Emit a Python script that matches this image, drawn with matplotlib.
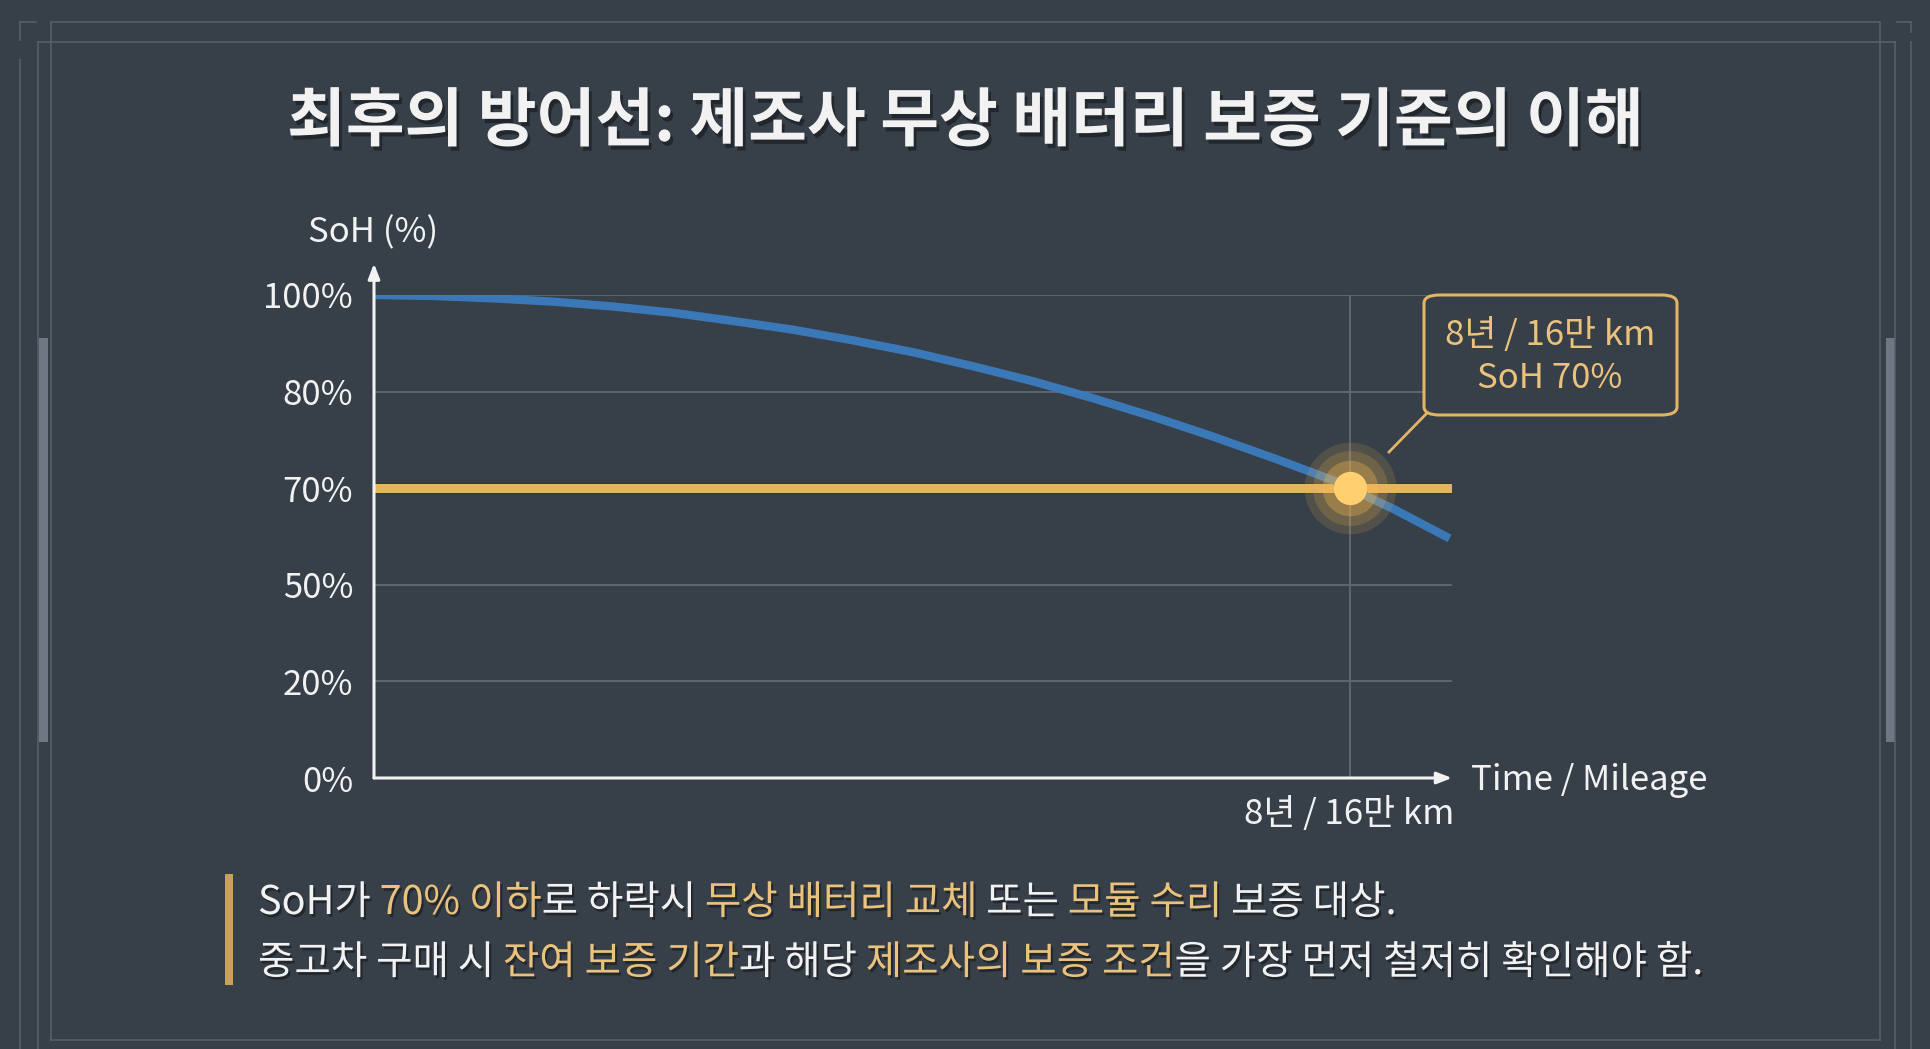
import numpy as np
import matplotlib
matplotlib.use("Agg")
import matplotlib.pyplot as plt
import matplotlib.patheffects as pe
from matplotlib.patches import FancyBboxPatch, Rectangle
from matplotlib.lines import Line2D

plt.rcParams['font.family'] = ['Noto Sans CJK KR', 'DejaVu Sans']

# ---------------- data ----------------
title = "최후의 방어선: 제조사 무상 배터리 보증 기준의 이해"
y_ticks = [0, 20, 50, 70, 80, 100]
y_tick_labels = ["0%", "20%", "50%", "70%", "80%", "100%"]
years = [0.0, 0.49, 0.98, 1.48, 1.97, 2.46, 2.95, 3.44, 3.93, 4.43, 4.92, 5.41,
         5.90, 6.39, 6.89, 7.38, 7.87, 8.00, 8.36, 8.82]
soh = [100.0, 99.8, 99.3, 98.6, 97.6, 96.3, 94.6, 92.8, 90.6, 88.1, 85.2, 82.1,
       79.3, 77.4, 75.3, 73.1, 70.8, 70.0, 65.7, 59.6]
threshold = 70
warranty_x = 8.0
x_max = 8.84
x_label = "Time / Mileage"
y_label = "SoH (%)"
warranty_label = "8년 / 16만 km"
box_lines = ["8년 / 16만 km", "SoH 70%"]
line1 = [("SoH가", "w"), (" 70% 이하", "g"), ("로 하락시", "w"), (" 무상 배터리 교체", "g"),
         (" 또는", "w"), (" 모듈 수리", "g"), (" 보증 대상.", "w")]
line2 = [("중고차 구매 시", "w"), (" 잔여 보증 기간", "g"), ("과 해당", "w"),
         (" 제조사의 보증 조건", "g"), ("을 가장 먼저 철저히 확인해야 함.", "w")]

# ---------------- style ----------------
BG = "#373f49"
WHITE = "#f2f2f2"
GOLD = "#e2b465"
GOLD_TXT = "#eac27c"
BLUE = "#3b7cbf"
GRID = "#5f6874"
FRAME = "#59616c"
LBL = 25

W, H = 1930, 1049
fig = plt.figure(figsize=(W / 100, H / 100), dpi=100, facecolor=BG)

def px(x, y):
    return x / W, 1 - y / H

# frame decorations
for (x0, y0, x1, y1) in [(51, 22, 1880, 22), (51, 22, 51, 1040), (1880, 22, 1880, 1040),
                         (38, 42, 1895, 42), (38, 42, 38, 1049), (1895, 42, 1895, 1049),
                         (51, 1040, 1880, 1040),
                         (20, 22, 36, 22), (20, 22, 20, 40), (20, 60, 20, 1049),
                         (1897, 22, 1911, 22), (1911, 22, 1911, 32), (1911, 42, 1911, 1049)]:
    a, b = px(x0, y0)
    c, d = px(x1, y1)
    fig.add_artist(Line2D([a, c], [b, d], color=FRAME, lw=1.2, alpha=0.9))
for xb in (39, 1886):
    a, b = px(xb, 742)
    fig.add_artist(Rectangle((a, b), 9 / W, 404 / H, color="#6e7782", lw=0))

# ---------------- axes ----------------
ax_l, ax_r, ax_t, ax_b = 374, 1452, 295, 778
ax = fig.add_axes([ax_l / W, 1 - ax_b / H, (ax_r - ax_l) / W, (ax_b - ax_t) / H])
ax.set_facecolor("none")
pos = np.arange(len(y_ticks), dtype=float)
fwd = lambda v: np.interp(v, y_ticks, pos)
inv = lambda p: np.interp(p, pos, y_ticks)
ax.set_yscale("function", functions=(fwd, inv))
ax.set_ylim(0, 100)
ax.set_xlim(0, x_max)
for s in ax.spines.values():
    s.set_visible(False)
ax.set_yticks(y_ticks)
ax.set_yticklabels(y_tick_labels)
ax.set_xticks([])
ax.tick_params(axis="y", length=0, pad=15, labelsize=LBL, labelcolor=WHITE)
for t in ax.get_yticklabels():
    t.set_fontweight("medium")

# gridlines
for v in [20, 50, 80, 100]:
    ax.plot([0, x_max], [v, v], color=GRID, lw=1.3, zorder=1)
ax.plot([warranty_x, warranty_x], [0, 100], color=GRID, lw=1.3, zorder=1)

# axes with arrows
ax.annotate("", xy=(0, 1.065), xycoords="axes fraction", xytext=(0, 0),
            arrowprops=dict(arrowstyle="-|>,head_length=0.9,head_width=0.35", color=WHITE, lw=2.2,
                            shrinkA=0, shrinkB=0), annotation_clip=False, zorder=5)
ax.annotate("", xy=(1.0, 0), xycoords="axes fraction", xytext=(0, 0),
            arrowprops=dict(arrowstyle="-|>,head_length=0.9,head_width=0.35", color=WHITE, lw=2.2,
                            shrinkA=0, shrinkB=0), annotation_clip=False, zorder=5)

# threshold line
ax.plot([0, x_max], [threshold, threshold], color=GOLD, lw=6.5, solid_capstyle="butt", zorder=3,
        path_effects=[pe.Stroke(linewidth=8, foreground="#2a2f36", alpha=0.5), pe.Normal()])
# SoH curve
ax.plot(years, soh, color=BLUE, lw=6, solid_capstyle="butt", solid_joinstyle="round",
        zorder=4, alpha=0.95)

# glowing marker
for ms, a in [(66, 0.14), (54, 0.18), (40, 0.32)]:
    ax.plot([warranty_x], [threshold], "o", ms=ms, color="#f5b94e", alpha=a, mec="none", zorder=6)
ax.plot([warranty_x], [threshold], "o", ms=24, color="#ffcf70", mec="none", zorder=7)

# labels
fig.text(*px(373, 233), y_label, ha="center", va="center", fontsize=LBL, color=WHITE,
         fontweight="medium")
fig.text(*px(1471, 781), x_label, ha="left", va="center", fontsize=LBL, color=WHITE,
         fontweight="medium")
ax.text(warranty_x, -0.075, warranty_label, transform=ax.get_xaxis_transform(),
        ha="center", va="center", fontsize=LBL, color=WHITE, fontweight="medium")

# annotation box
bx0, by0, bx1, by1 = 1424, 295, 1677, 415
a, b = px(bx0, by1)
box = FancyBboxPatch((a, b), (bx1 - bx0) / W, (by1 - by0) / H,
                     boxstyle="round,pad=0,rounding_size=0.008", transform=fig.transFigure,
                     fc=BG, ec=GOLD, lw=2.2, zorder=8)
fig.add_artist(box)
fig.text(*px(1550, 335), box_lines[0], ha="center", va="center", fontsize=LBL,
         color=GOLD_TXT, fontweight="medium", zorder=9)
fig.text(*px(1550, 379), box_lines[1], ha="center", va="center", fontsize=LBL,
         color=GOLD_TXT, fontweight="medium", zorder=9)
a, b = px(1389, 452)
c, d = px(1428, 412)
fig.add_artist(Line2D([a, c], [b, d], color=GOLD, lw=2))

# title
shadow = [pe.withSimplePatchShadow(offset=(2, -3), shadow_rgbFace="#15181c", alpha=0.6)]
fig.text(*px(965, 122), title, ha="center", va="center", fontsize=46, fontweight="bold",
         color=WHITE, path_effects=shadow)

# bottom notes
a, b = px(225, 985)
fig.add_artist(Rectangle((a, b), 8 / W, 111 / H, color="#c9a05a", lw=0))
tshadow = [pe.withSimplePatchShadow(offset=(1.5, -2), shadow_rgbFace="#15181c", alpha=0.6)]
FS = 28.5

renderer = fig.canvas.get_renderer()
def rich_line(segs, x, y):
    cur = x
    for s, c in segs:
        fig.text(*px(cur, y), s, ha="left", va="baseline", fontsize=FS, fontweight="medium",
                 color=WHITE if c == "w" else GOLD_TXT, path_effects=tshadow)
        probe = fig.text(0, 0, "|" + s + "|", fontsize=FS, fontweight="medium")
        probe0 = fig.text(0, 0, "||", fontsize=FS, fontweight="medium")
        w = probe.get_window_extent(renderer).width - probe0.get_window_extent(renderer).width
        probe.remove(); probe0.remove()
        cur += w

rich_line(line1, 258, 914)
rich_line(line2, 258, 974)

fig.savefig("out.png", dpi=100, facecolor=BG)
